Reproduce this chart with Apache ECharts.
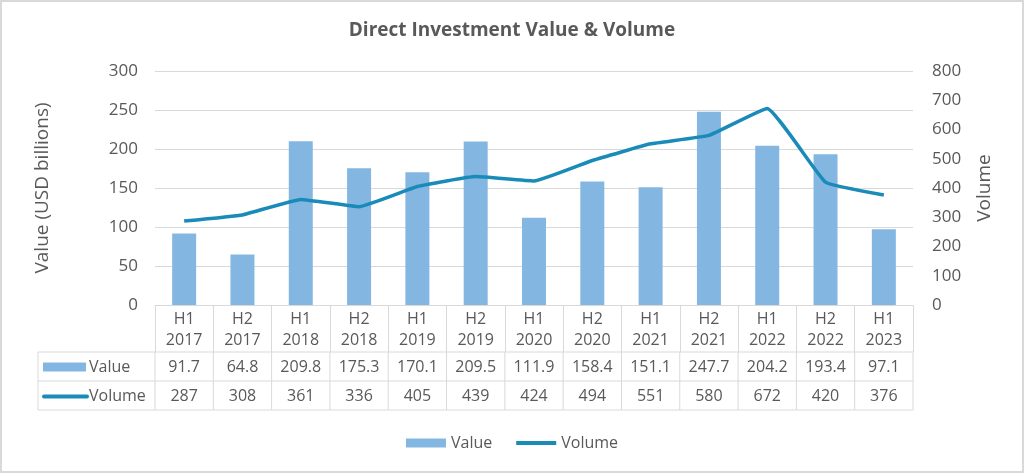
<!DOCTYPE html>
<html>
<head>
<meta charset="utf-8">
<script src="https://cdn.jsdelivr.net/npm/echarts@6/dist/echarts.min.js"></script>
<style>
html,body{margin:0;padding:0;background:#fff;}
#c{width:1024px;height:473px;}
</style>
</head>
<body>
<div id="c"></div>
<script>
const halves = ['H1','H2','H1','H2','H1','H2','H1','H2','H1','H2','H1','H2','H1'];
const years = ['2017','2017','2018','2018','2019','2019','2020','2020','2021','2021','2022','2022','2023'];
const categories = halves.map((h,i)=>h+'\n'+years[i]);
const valueData = [91.7,64.8,209.8,175.3,170.1,209.5,111.9,158.4,151.1,247.7,204.2,193.4,97.1];
const volumeData = [287,308,361,336,405,439,424,494,551,580,672,420,376];
const valueLabels = ['91.7','64.8','209.8','175.3','170.1','209.5','111.9','158.4','151.1','247.7','204.2','193.4','97.1'];

const TXT = '#595959';
const GRID = '#d9d9d9';
const BAR = '#83b7e2';
const LINE = '#1a8bb9';
const FONT = 'Open Sans';

const chart = echarts.init(document.getElementById('c'));
const option = {
  animation:false,
  textStyle:{fontFamily:FONT,color:TXT},
  title:{text:'Direct Investment Value & Volume',left:'center',top:16,
    textStyle:{fontFamily:FONT,fontSize:19,fontWeight:'bold',color:TXT}},
  grid:{left:155,right:111,top:71,bottom:168},
  legend:{left:'center',top:430,itemWidth:40,itemHeight:9,itemGap:24,symbolKeepAspect:true,
    textStyle:{fontFamily:FONT,fontSize:16,color:TXT},
    data:[{name:'Value',icon:'rect'},{name:'Volume',icon:'path://M0,0h40v4h-40z',itemStyle:{color:LINE}}]},
  xAxis:{type:'category',data:categories,
    axisLine:{lineStyle:{color:GRID,width:1}},
    axisTick:{show:true,length:47,lineStyle:{color:GRID}},
    axisLabel:{fontFamily:FONT,fontSize:16,color:TXT,lineHeight:21,margin:4,interval:0}},
  yAxis:[
    {type:'value',min:0,max:300,interval:50,name:'Value (USD billions)',nameLocation:'middle',nameRotate:90,nameGap:103,
     nameTextStyle:{fontFamily:FONT,fontSize:19,color:TXT},
     axisLabel:{fontFamily:FONT,fontSize:17,color:TXT,margin:17},
     splitLine:{lineStyle:{color:GRID}},axisLine:{show:false},axisTick:{show:false}},
    {type:'value',min:0,max:800,interval:100,name:'Volume',nameLocation:'middle',nameRotate:90,nameGap:62,
     nameTextStyle:{fontFamily:FONT,fontSize:19,color:TXT},
     axisLabel:{fontFamily:FONT,fontSize:17,color:TXT,margin:19},
     splitLine:{show:false},axisLine:{show:false},axisTick:{show:false}}
  ],
  series:[
    {name:'Value',type:'bar',data:valueData,barWidth:24,itemStyle:{color:BAR},yAxisIndex:0},
    {name:'Volume',type:'line',data:volumeData,yAxisIndex:1,symbol:'none',smooth:0.1,
     lineStyle:{color:LINE,width:3.5},itemStyle:{color:LINE}}
  ]
};
chart.setOption(option);

// Build data table beneath axis from arrays, positioned via chart scales
const centers = categories.map((c,i)=>chart.convertToPixel({xAxisIndex:0},i));
const step = centers[1]-centers[0];
const xL = centers[0]-step/2, xR = centers[centers.length-1]+step/2;
const y0 = chart.convertToPixel({yAxisIndex:0},0);
const r1 = y0+47, r2 = r1+29, r3 = r2+29;
const tblLeft = 38;
const g = [];
g.push({type:'rect',shape:{x:1,y:1,width:1022,height:471},style:{fill:null,stroke:GRID,lineWidth:2},silent:true});
[r1,r2,r3].forEach(y=>g.push({type:'line',shape:{x1:tblLeft,y1:y,x2:xR,y2:y},style:{stroke:GRID,lineWidth:1}}));
g.push({type:'line',shape:{x1:tblLeft,y1:r1,x2:tblLeft,y2:r3},style:{stroke:GRID,lineWidth:1}});
for(let i=0;i<=categories.length;i++){
  const x = xL+i*step;
  g.push({type:'line',shape:{x1:x,y1:r1,x2:x,y2:r3},style:{stroke:GRID,lineWidth:1}});
}
centers.forEach((cx,i)=>{
  g.push({type:'text',x:cx,y:(r1+r2)/2+1,style:{text:valueLabels[i],fill:TXT,font:'16px "'+FONT+'"',align:'center',verticalAlign:'middle'}});
  g.push({type:'text',x:cx,y:(r2+r3)/2+1,style:{text:String(volumeData[i]),fill:TXT,font:'16px "'+FONT+'"',align:'center',verticalAlign:'middle'}});
});
g.push({type:'rect',shape:{x:43,y:(r1+r2)/2-4,width:43,height:9},style:{fill:BAR}});
g.push({type:'text',x:89,y:(r1+r2)/2+1,style:{text:'Value',fill:TXT,font:'16px "'+FONT+'"',align:'left',verticalAlign:'middle'}});
g.push({type:'line',shape:{x1:44,y1:(r2+r3)/2+1,x2:87,y2:(r2+r3)/2+1},style:{stroke:LINE,lineWidth:4,lineCap:'round'}});
g.push({type:'text',x:89,y:(r2+r3)/2+1,style:{text:'Volume',fill:TXT,font:'16px "'+FONT+'"',align:'left',verticalAlign:'middle'}});
chart.setOption({graphic:g});
</script>
</body>
</html>
